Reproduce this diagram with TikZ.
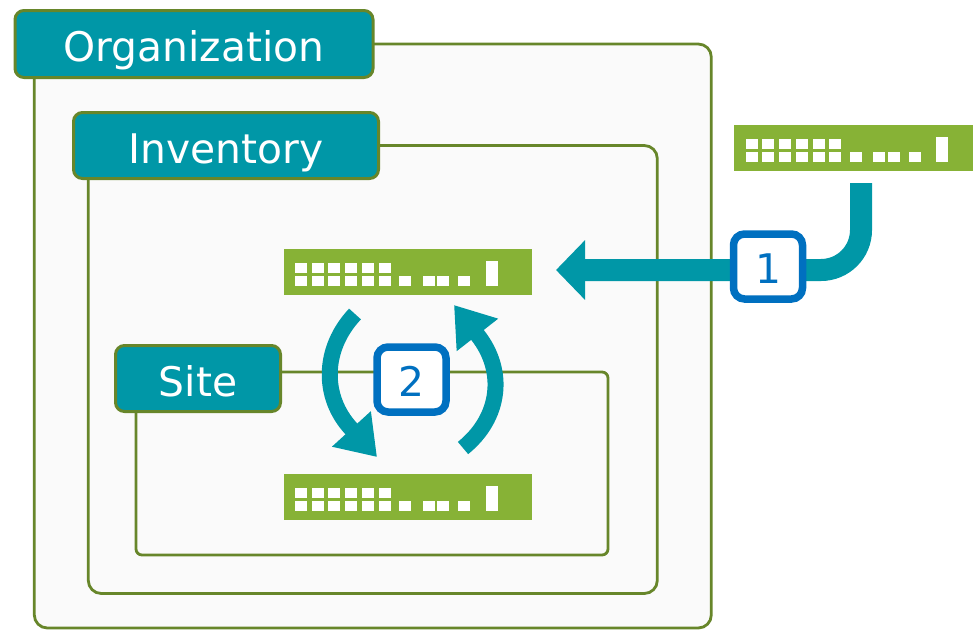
\documentclass[tikz,border=0pt]{standalone}
\usepackage{fontspec}
\setmainfont{DejaVu Sans}
\usetikzlibrary{arrows.meta}
\definecolor{teal1}{HTML}{0097A7}
\definecolor{grn}{HTML}{87B236}
\definecolor{edge}{HTML}{67862A}
\definecolor{pale}{HTML}{FAFAFA}
\definecolor{blu}{HTML}{0070C0}
\def\px{0.75pt}
\tikzset{
  panel/.style={draw=edge,line width=2.8*\px,fill=pale,rounded corners=13*\px,inner sep=0,outer sep=0,anchor=north west},
  header/.style={draw=edge,line width=3*\px,fill=teal1,rounded corners=9*\px,text=white,inner sep=0,outer sep=0,font=\fontsize{30.6pt}{36pt}\selectfont,text height=26.5pt,text depth=0pt},
  badge/.style={draw=blu,line width=7.5*\px,fill=white,rounded corners=11*\px,text=blu,inner sep=0,outer sep=0,minimum width=69*\px,minimum height=65*\px,font=\fontsize{30.6pt}{36pt}\selectfont,text height=26pt,text depth=0pt},
  swbody/.style={fill=grn,inner sep=0,outer sep=0,minimum width=248*\px,minimum height=46*\px},
  flow/.style={draw=teal1,line width=22*\px},
  turn/.style={draw=teal1,line width=16*\px,-{Triangle[width=50*\px,length=38*\px]}},
  port/.style={fill=white},
  swports/.pic={
    \foreach \a in {11.7,28,44.7,61.7,78.7,95}{
      \path[port] (\a,14) rectangle ++(12,10);
      \path[port] (\a,27) rectangle ++(12,10);
    }
    \foreach \a in {115.7,139,153.7,174.7}{
      \path[port] (\a,27) rectangle ++(12,10);
    }
    \path[port] (202.3,12.3) rectangle ++(12,24.7);
  }
}
\begin{document}
\begin{tikzpicture}[x=0.75pt,y=-0.75pt]
\useasboundingbox (0,0) rectangle (973,629);
\clip (0,0) rectangle (973,629);
% panels
\node[panel,minimum width=677*\px,minimum height=584*\px] (orgp) at (34.3,44) {};
\node[panel,minimum width=569*\px,minimum height=448*\px] (invp) at (88.3,145.5) {};
\node[panel,rounded corners=6*\px,minimum width=472*\px,minimum height=183*\px] (sitep) at (136,372) {};
% headers
\node[header,minimum width=358*\px,minimum height=67*\px] (org) at (194,44) {Organization};
\node[header,minimum width=305*\px,minimum height=66*\px] (inv) at (226,145.5) {Inventory};
\node[header,minimum width=165*\px,minimum height=66*\px] (site) at (198,378.5) {Site};
% switches
\node[swbody] (sw1) at (407.5,272) {};
\node[swbody] (sw2) at (407.5,497) {};
\node[swbody,minimum width=239*\px] (sw3) at (853.5,147.5) {};
\pic at (sw1.north west) {swports};
\pic at (sw2.north west) {swports};
\pic at (sw3.north west) {swports};
% connector coordinates
\coordinate (s3out) at (861,183);
\coordinate (s1in) at (556,270);
\coordinate (ds) at (355,314);
\coordinate (db) at (351,428.5);
\coordinate (dt) at (377,457);
\coordinate (us) at (463,448);
\coordinate (ub) at (477.5,335);
\coordinate (ut) at (454,305);
% arrows
\draw[flow,rounded corners=40*\px,-{Triangle[width=58*\px,length=29*\px]}] (s3out) -- (861,270) -- (s1in);
\draw[turn] (ds) .. controls (322,349) and (322,397) .. (db) -- (dt);
\draw[turn] (us) .. controls (500.4,417.8) and (506,371) .. (ub) -- (ut);
% badges
\node[badge] (b1) at (768,266.5) {1};
\node[badge] (b2) at (411.5,379.5) {2};
\end{tikzpicture}
\end{document}
